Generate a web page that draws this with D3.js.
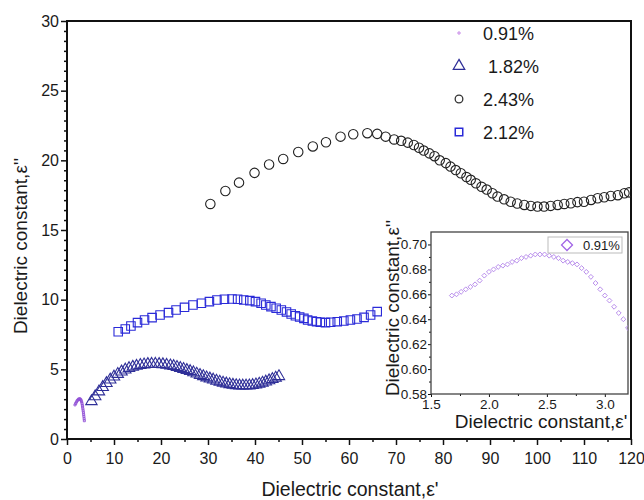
<!DOCTYPE html>
<html>
<head>
<meta charset="utf-8">
<script src="https://cdn.jsdelivr.net/npm/d3@7"></script>
<style>
  body { margin: 0; background: #fff; }
  svg { font-family: 'Liberation Sans', Arial, sans-serif; }
</style>
</head>
<body>
<div id="chart"></div>
<script>
// ---- data ----
const legendLabels = ['0.91%', ' 1.82%', '2.43%', '2.12%'];
const insetLegendLabel = '0.91%';

const xTicks = [0, 10, 20, 30, 40, 50, 60, 70, 80, 90, 100, 110, 120];
const yTicks = [0, 5, 10, 15, 20, 25, 30];
const insetXTicks = [1.5, 2.0, 2.5, 3.0];
const insetYTicks = [0.58, 0.60, 0.62, 0.64, 0.66, 0.68, 0.70];

// 0.91% (main plot, small hook near origin)
const s091X = [1.70, 1.85, 2.00, 2.15, 2.30, 2.45, 2.60, 2.75, 2.90, 3.02, 3.12,
  3.20, 3.27, 3.32, 3.38, 3.44, 3.50, 3.55, 3.60, 3.65, 3.69];
const s091Y = [2.45, 2.55, 2.65, 2.74, 2.80, 2.85, 2.88, 2.88, 2.84, 2.76, 2.66,
  2.54, 2.42, 2.30, 2.16, 2.02, 1.88, 1.74, 1.60, 1.45, 1.31];

// 1.82% triangles
const s182X = [5.2, 6.0, 6.8, 7.6, 8.4, 9.2, 10.0, 10.8, 11.6, 12.4, 13.2, 14.0,
  14.8, 15.6, 16.4, 17.2, 18.0, 18.8, 19.6, 20.4, 21.2, 22.0, 22.7, 23.4, 24.1,
  24.8, 25.5, 26.2, 26.9, 27.6, 28.3, 29.0, 29.7, 30.4, 31.1, 31.8, 32.5, 33.2,
  33.9, 34.6, 35.3, 36.0, 36.7, 37.4, 38.1, 38.8, 39.5, 40.2, 40.9, 41.6, 42.3,
  43.0, 43.7, 44.4, 45.1];
const s182Y = [2.70, 3.05, 3.40, 3.72, 4.00, 4.25, 4.47, 4.66, 4.83, 4.97, 5.08,
  5.17, 5.24, 5.30, 5.34, 5.37, 5.38, 5.38, 5.37, 5.35, 5.31, 5.27, 5.22, 5.16,
  5.09, 5.02, 4.94, 4.86, 4.77, 4.68, 4.59, 4.50, 4.41, 4.33, 4.25, 4.17, 4.10,
  4.03, 3.97, 3.92, 3.88, 3.85, 3.83, 3.82, 3.82, 3.83, 3.86, 3.90, 3.96, 4.03,
  4.11, 4.20, 4.29, 4.39, 4.50];

// 2.43% circles
const s243X = [30.5, 33.7, 36.6, 39.9, 43.0, 46.0, 49.2, 52.3, 55.1, 58.2, 60.9,
  63.9, 66.0, 67.8, 69.6, 71.1, 72.5, 73.8, 74.9, 75.9, 77.1, 78.2, 79.3, 80.6,
  81.6, 82.7, 83.8, 85.0, 85.9, 87.0, 88.2, 89.3, 90.5, 91.6, 93.0, 94.4, 95.8,
  97.3, 98.7, 100.1, 101.5, 102.9, 104.4, 105.8, 107.2, 108.6, 110.0, 111.5,
  112.9, 114.3, 115.7, 117.2, 118.6, 119.6];
const s243Y = [16.87, 17.80, 18.40, 19.10, 19.70, 20.10, 20.60, 21.00, 21.30,
  21.70, 21.87, 21.95, 21.90, 21.70, 21.50, 21.40, 21.27, 21.10, 20.90, 20.70,
  20.50, 20.30, 20.00, 19.80, 19.55, 19.30, 19.07, 18.80, 18.60, 18.35, 18.10,
  17.90, 17.64, 17.40, 17.20, 17.03, 16.90, 16.80, 16.73, 16.68, 16.68, 16.73,
  16.80, 16.87, 16.92, 17.00, 17.03, 17.16, 17.28, 17.35, 17.44, 17.50, 17.64,
  17.70];

// 2.12% squares
const s212X = [10.9, 12.4, 13.6, 15.0, 16.5, 18.1, 19.8, 21.6, 23.2, 25.0, 26.8,
  28.6, 30.3, 31.9, 33.5, 35.1, 36.3, 37.6, 38.9, 40.1, 41.3, 42.3, 43.4, 44.5,
  45.6, 46.7, 47.7, 48.6, 49.5, 50.4, 51.2, 52.2, 53.1, 53.9, 55.0, 56.1, 57.5,
  58.9, 60.3, 61.7, 63.2, 64.6, 66.0];
const s212Y = [7.70, 7.90, 8.11, 8.35, 8.54, 8.71, 8.90, 9.07, 9.26, 9.45, 9.62,
  9.74, 9.86, 9.98, 10.03, 10.05, 10.03, 9.98, 9.93, 9.86, 9.74, 9.62, 9.50,
  9.38, 9.26, 9.12, 8.97, 8.85, 8.76, 8.66, 8.54, 8.47, 8.42, 8.38, 8.35, 8.38,
  8.42, 8.47, 8.54, 8.61, 8.73, 8.90, 9.14];

// inset: 0.91%
const insetX = [1.68, 1.72, 1.76, 1.80, 1.84, 1.88, 1.92, 1.96, 2.00, 2.04, 2.08,
  2.12, 2.16, 2.20, 2.24, 2.28, 2.32, 2.36, 2.40, 2.44, 2.48, 2.52, 2.56, 2.60,
  2.64, 2.68, 2.72, 2.76, 2.80, 2.84, 2.88, 2.92, 2.96, 3.00, 3.04, 3.08, 3.12,
  3.16, 3.20];
const insetY = [0.659, 0.660, 0.662, 0.664, 0.666, 0.668, 0.671, 0.675, 0.678,
  0.680, 0.682, 0.683, 0.684, 0.686, 0.687, 0.689, 0.690, 0.691, 0.692, 0.692,
  0.692, 0.691, 0.690, 0.689, 0.687, 0.686, 0.685, 0.684, 0.681, 0.678, 0.674,
  0.669, 0.664, 0.659, 0.655, 0.650, 0.645, 0.640, 0.633];

// ---- drawing ----
const W = 644;
const H = 500;
const plot = { left: 67, right: 631, top: 21, bottom: 439 };
const inset = { left: 431, right: 628, top: 232, bottom: 394 };

const col = {
  p091: '#9150d6',
  p091inset: '#b487ea',
  p182: '#2f2f98',
  p243: '#222222',
  p212: '#2a2ad8',
  text: '#1a1a1a',
};

const svg = d3.select('#chart').append('svg')
  .attr('width', W)
  .attr('height', H);

const x = d3.scaleLinear().domain([0, 120]).range([plot.left, plot.right]);
const y = d3.scaleLinear().domain([0, 30]).range([plot.bottom, plot.top]);

const zip = (xs, ys) => xs.map((v, i) => ({ x: v, y: ys[i] }));

// minor ticks
const xMinor = d3.range(0, 121, 5).filter(v => v % 10 !== 0);
const yMinor = d3.range(0, 30.01, 5 / 7)
  .filter(v => Math.abs(v / 5 - Math.round(v / 5)) > 0.01);

const styleAxis = (g, w) => {
  g.select('.domain').remove();
  g.selectAll('line').attr('stroke', '#111').attr('stroke-width', w);
  g.selectAll('text').attr('fill', col.text);
};

svg.append('g')
  .attr('transform', `translate(0,${plot.bottom})`)
  .call(d3.axisBottom(x).tickValues(xMinor).tickSize(3).tickFormat(''))
  .call(g => styleAxis(g, 1.5));

svg.append('g')
  .attr('transform', `translate(0,${plot.bottom})`)
  .style('font-size', '16px')
  .call(d3.axisBottom(x).tickValues(xTicks).tickSize(6).tickPadding(8)
    .tickFormat(d3.format('d')))
  .call(g => styleAxis(g, 1.5));

svg.append('g')
  .attr('transform', `translate(${plot.left},0)`)
  .call(d3.axisLeft(y).tickValues(yMinor).tickSize(3).tickFormat(''))
  .call(g => styleAxis(g, 1.5));

svg.append('g')
  .attr('transform', `translate(${plot.left},0)`)
  .style('font-size', '16px')
  .call(d3.axisLeft(y).tickValues(yTicks).tickSize(6).tickPadding(2)
    .tickFormat(d3.format('d')))
  .call(g => styleAxis(g, 1.5));

svg.append('rect')
  .attr('x', plot.left)
  .attr('y', plot.top)
  .attr('width', plot.right - plot.left)
  .attr('height', plot.bottom - plot.top)
  .attr('fill', 'none')
  .attr('stroke', '#111')
  .attr('stroke-width', 2);

// axis titles
svg.append('text')
  .attr('x', 350)
  .attr('y', 496)
  .attr('text-anchor', 'middle')
  .attr('fill', col.text)
  .style('font-size', '19.5px')
  .text('Dielectric constant,ε\'');

svg.append('text')
  .attr('transform', 'translate(27,246) rotate(-90)')
  .attr('text-anchor', 'middle')
  .attr('fill', col.text)
  .style('font-size', '19px')
  .text('Dielectric constant,ε\'\'');

svg.append('clipPath').attr('id', 'mainClip')
  .append('rect')
  .attr('x', plot.left)
  .attr('y', plot.top)
  .attr('width', plot.right - plot.left)
  .attr('height', plot.bottom - plot.top);

const marks = svg.append('g').attr('clip-path', 'url(#mainClip)');

const drawSymbols = (g, data, sx, sy, type, size, color, width, rot) => {
  g.append('g').selectAll('path')
    .data(data)
    .join('path')
    .attr('d', d3.symbol().type(type).size(size))
    .attr('transform', d => `translate(${sx(d.x)},${sy(d.y)})${rot ? ` rotate(${rot})` : ''}`)
    .attr('fill', 'none')
    .attr('stroke', color)
    .attr('stroke-width', width);
};

drawSymbols(marks, zip(s212X, s212Y), x, y, d3.symbolSquare, 72, col.p212, 1.1);
drawSymbols(marks, zip(s243X, s243Y), x, y, d3.symbolCircle, 70, col.p243, 1.1);
drawSymbols(marks, zip(s182X, s182Y), x, y, d3.symbolTriangle, 56, col.p182, 1.1);
drawSymbols(marks, zip(s091X, s091Y), x, y, d3.symbolSquare, 4, col.p091, 0.9);

// main legend
const legendSymbols = [
  { type: d3.symbolSquare, size: 4, color: '#c88ae8', width: 1 },
  { type: d3.symbolTriangle, size: 56, color: col.p182, width: 1.3 },
  { type: d3.symbolCircle, size: 46, color: '#333', width: 1.3 },
  { type: d3.symbolSquare, size: 56, color: col.p212, width: 1.5 },
];
const legendRows = [33, 66, 99, 132];

const legend = svg.append('g');
legendLabels.forEach((label, i) => {
  const s = legendSymbols[i];
  legend.append('path')
    .attr('d', d3.symbol().type(s.type).size(s.size))
    .attr('transform', `translate(459,${legendRows[i]})`)
    .attr('fill', 'none')
    .attr('stroke', s.color)
    .attr('stroke-width', s.width);
  legend.append('text')
    .attr('x', 483)
    .attr('y', legendRows[i] + 6.5)
    .attr('fill', col.text)
    .style('font-size', '18px')
    .style('white-space', 'pre')
    .text(label);
});

// ---- inset ----
const xi = d3.scaleLinear().domain([1.5, 3.2]).range([inset.left, inset.right]);
const yi = d3.scaleLinear().domain([0.58, 0.71]).range([inset.bottom, inset.top]);

svg.append('rect')
  .attr('x', inset.left)
  .attr('y', inset.top)
  .attr('width', inset.right - inset.left)
  .attr('height', inset.bottom - inset.top)
  .attr('fill', '#fff');

const insetXMinor = [1.75, 2.25, 2.75];
const insetYMinor = d3.range(0.59, 0.71, 0.02);

svg.append('g')
  .attr('transform', `translate(0,${inset.bottom})`)
  .call(d3.axisBottom(xi).tickValues(insetXMinor).tickSize(2).tickFormat(''))
  .call(g => styleAxis(g, 1));

svg.append('g')
  .attr('transform', `translate(0,${inset.bottom})`)
  .style('font-size', '13.5px')
  .call(d3.axisBottom(xi).tickValues(insetXTicks).tickSize(3).tickPadding(2)
    .tickFormat(d3.format('.1f')))
  .call(g => styleAxis(g, 1));

svg.append('g')
  .attr('transform', `translate(${inset.left},0)`)
  .call(d3.axisLeft(yi).tickValues(insetYMinor).tickSize(2).tickFormat(''))
  .call(g => styleAxis(g, 1));

svg.append('g')
  .attr('transform', `translate(${inset.left},0)`)
  .style('font-size', '13.5px')
  .call(d3.axisLeft(yi).tickValues(insetYTicks).tickSize(3).tickPadding(1)
    .tickFormat(d3.format('.2f')))
  .call(g => styleAxis(g, 1));

svg.append('rect')
  .attr('x', inset.left)
  .attr('y', inset.top)
  .attr('width', inset.right - inset.left)
  .attr('height', inset.bottom - inset.top)
  .attr('fill', 'none')
  .attr('stroke', '#444')
  .attr('stroke-width', 1.3);

svg.append('clipPath').attr('id', 'insetClip')
  .append('rect')
  .attr('x', inset.left)
  .attr('y', inset.top)
  .attr('width', inset.right - inset.left)
  .attr('height', inset.bottom - inset.top);

const insetMarks = svg.append('g').attr('clip-path', 'url(#insetClip)');
drawSymbols(insetMarks, zip(insetX, insetY), xi, yi, d3.symbolSquare, 12,
  col.p091inset, 0.9, 45);

svg.append('text')
  .attr('x', 541)
  .attr('y', 428)
  .attr('text-anchor', 'middle')
  .attr('fill', col.text)
  .style('font-size', '19px')
  .text('Dielectric constant,ε\'');

svg.append('text')
  .attr('transform', 'translate(399,308) rotate(-90)')
  .attr('text-anchor', 'middle')
  .attr('fill', col.text)
  .style('font-size', '19px')
  .text('Dielectric constant,ε\'\'');

// inset legend
svg.append('rect')
  .attr('x', 548)
  .attr('y', 237)
  .attr('width', 74)
  .attr('height', 16)
  .attr('fill', '#fff')
  .attr('stroke', '#bbb')
  .attr('stroke-width', 1);

svg.append('path')
  .attr('d', d3.symbol().type(d3.symbolSquare).size(60))
  .attr('transform', 'translate(567,245) rotate(45)')
  .attr('fill', 'none')
  .attr('stroke', '#a266e6')
  .attr('stroke-width', 1.3);

svg.append('text')
  .attr('x', 583)
  .attr('y', 250)
  .attr('fill', col.text)
  .style('font-size', '13px')
  .text(insetLegendLabel);
</script>
</body>
</html>
